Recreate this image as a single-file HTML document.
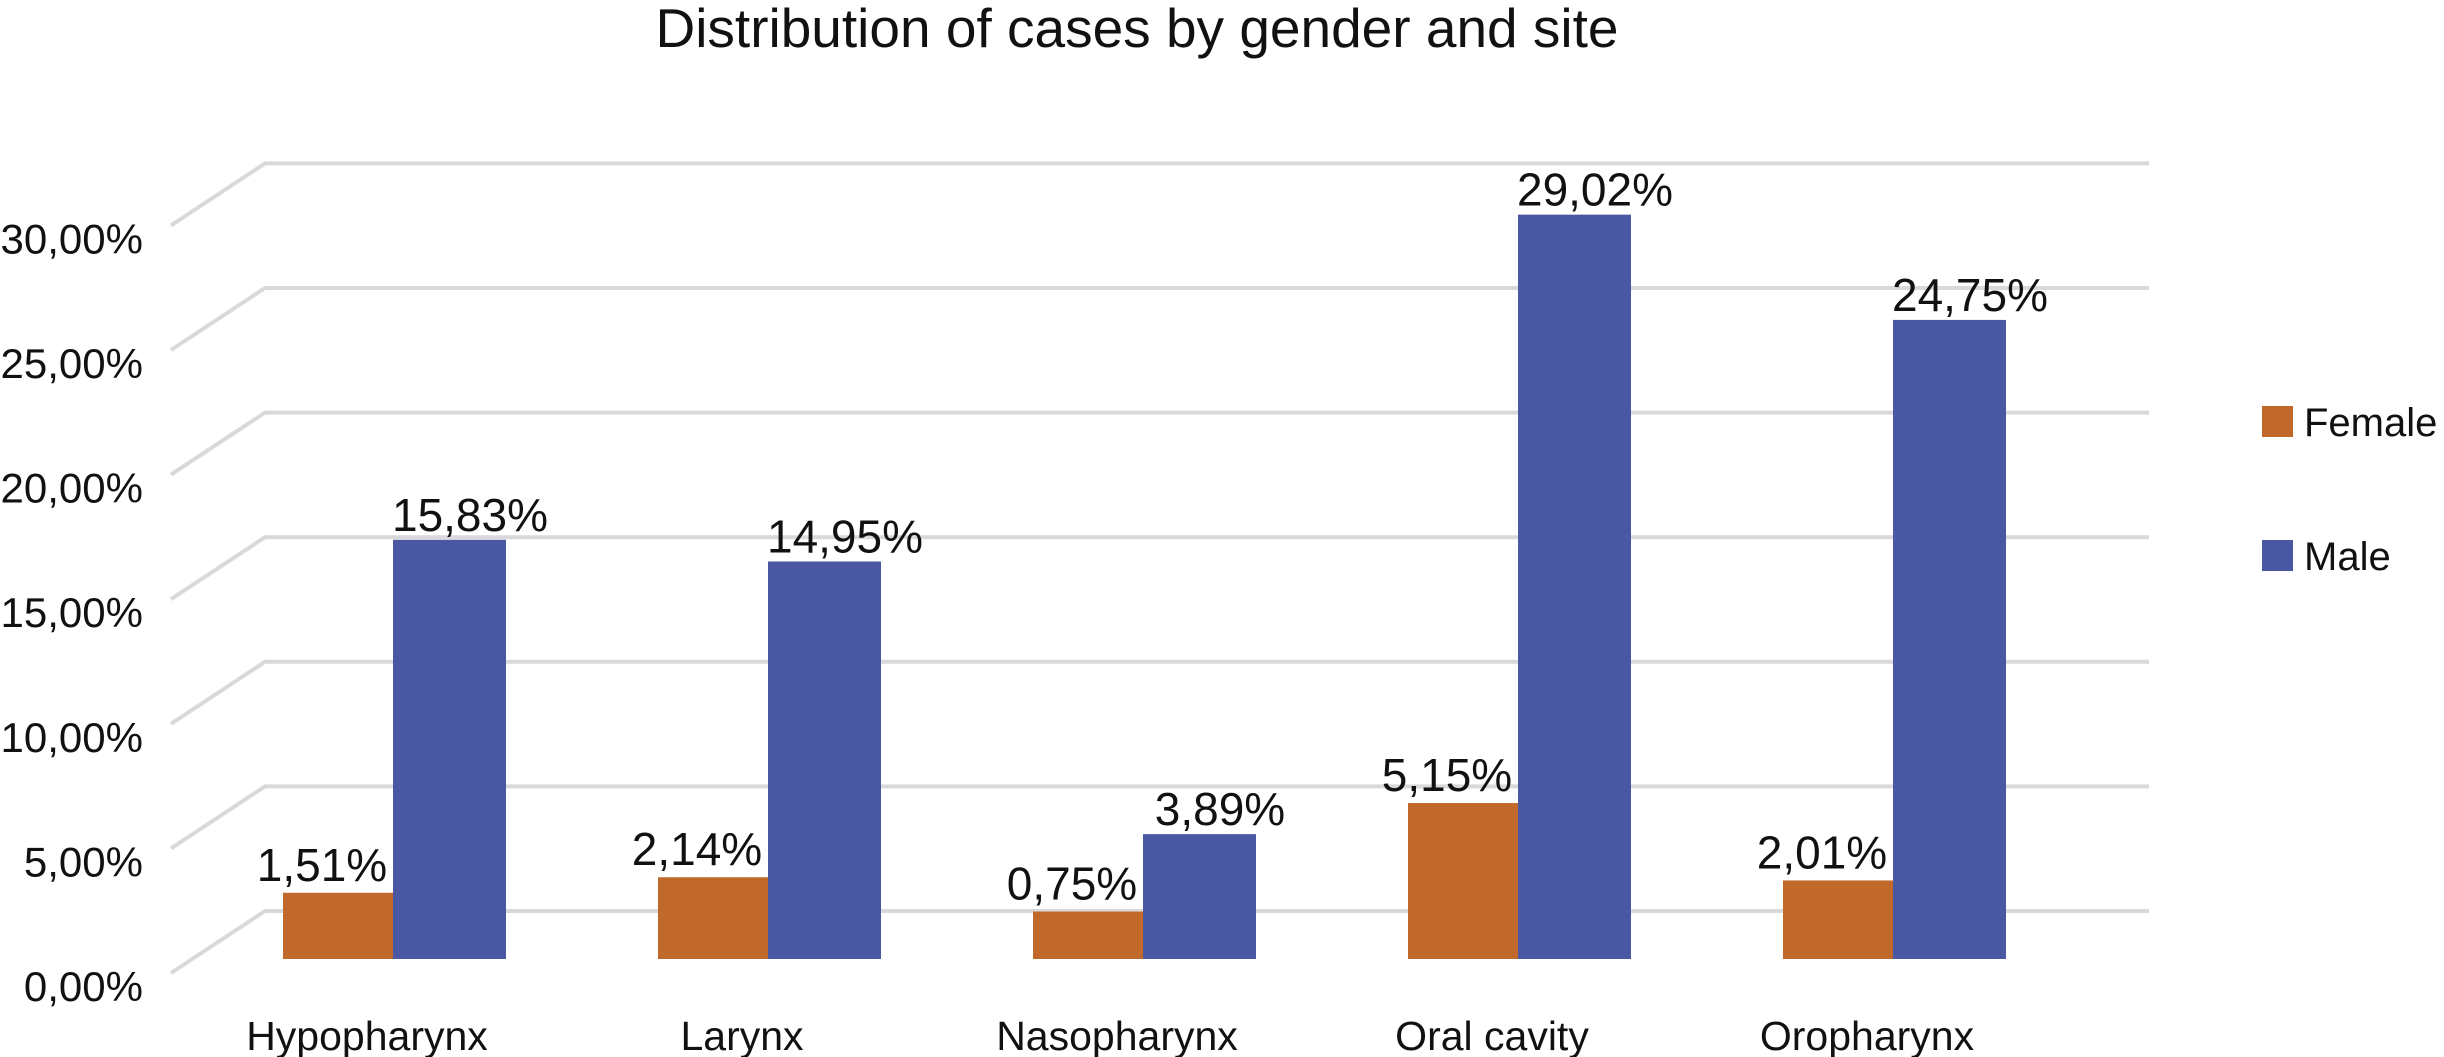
<!DOCTYPE html>
<html><head><meta charset="utf-8"><style>
html,body{margin:0;padding:0;background:#fff;}
svg{display:block;font-family:"Liberation Sans",Arial,sans-serif;}
</style></head><body>
<svg id="chart" width="2444" height="1057" viewBox="0 0 2444 1057" xmlns="http://www.w3.org/2000/svg">
<text x="1137" y="47" font-size="55" text-anchor="middle" fill="#111">Distribution of cases by gender and site</text>
<g id="grid"></g>
<g id="ylabels"></g>
<g id="bars"></g>
<g id="xlabels"></g>
<g>
<rect x="2262" y="406" width="31" height="31" fill="#C0692A"/>
<text x="2304" y="436" font-size="40" fill="#111">Female</text>
<rect x="2262" y="540" width="31" height="31" fill="#4A57A3"/>
<text x="2304" y="570" font-size="40" fill="#111">Male</text>
</g>
</svg>
<script>
const categories = ["Hypopharynx","Larynx","Nasopharynx","Oral cavity","Oropharynx"];
const femaleValues = [1.51, 2.14, 0.75, 5.15, 2.01];
const maleValues = [15.83, 14.95, 3.89, 29.02, 24.75];
const femaleLabels = ["1,51%","2,14%","0,75%","5,15%","2,01%"];
const maleLabels = ["15,83%","14,95%","3,89%","29,02%","24,75%"];
const yTicks = [0,5,10,15,20,25,30];
const yTickLabels = ["0,00%","5,00%","10,00%","15,00%","20,00%","25,00%","30,00%"];

const NS = "http://www.w3.org/2000/svg";
function mk(tag, attrs, parent){const e=document.createElementNS(NS,tag);for(const k in attrs)e.setAttribute(k,attrs[k]);parent.appendChild(e);return e;}
function wallY(v){return 911 - v*24.92;}
function barY(v){return 930 - v*24.65;}
const barBottom = 959;
function xCenter(i){return 393 + i*375;}
const barW = 110;

const grid=document.getElementById('grid'), yl=document.getElementById('ylabels'), bars=document.getElementById('bars'), xl=document.getElementById('xlabels');
yTicks.forEach((t,i)=>{
  const y=wallY(t);
  const p=mk('polyline',{points:`171,${y+62} 265,${y} 2149,${y}`,fill:'none',stroke:'#d9d9d9','stroke-width':4},grid);
  
  
  const tx=mk('text',{x:143,y:y+90,'font-size':42,'text-anchor':'end',fill:'#111'},yl);
  tx.textContent=yTickLabels[i];
  
  
});
categories.forEach((c,i)=>{
  const cx=xCenter(i);
  const fy=Math.min(barY(femaleValues[i]),barBottom);
  const r1=mk('rect',{x:cx-barW,y:fy,width:barW,height:barBottom-fy,fill:'#C0692A'},bars);
  
  
  const my=Math.min(barY(maleValues[i]),barBottom);
  const r2=mk('rect',{x:cx,y:my,width:barW+3,height:barBottom-my,fill:'#4A57A3'},bars);
  
  
  const l1=mk('text',{x:cx-barW/2-16,y:fy-12,'font-size':46,'text-anchor':'middle',fill:'#111'},bars);
  l1.textContent=femaleLabels[i];
  
  
  const l2=mk('text',{x:cx+barW/2+22,y:my-9,'font-size':46,'text-anchor':'middle',fill:'#111'},bars);
  l2.textContent=maleLabels[i];
  
  
  const xt=mk('text',{x:cx-26,y:1050,'font-size':41,'text-anchor':'middle',fill:'#111'},xl);
  xt.textContent=c;
  
  
});
</script>
</body></html>
